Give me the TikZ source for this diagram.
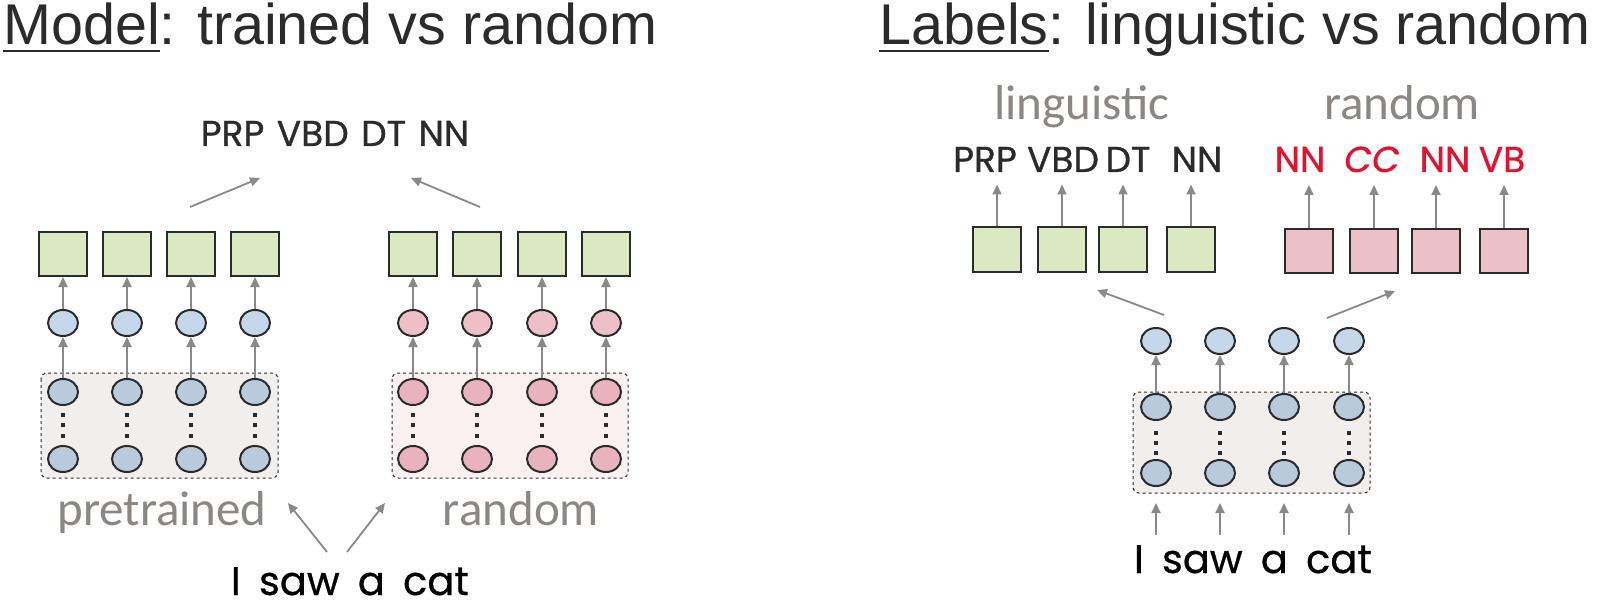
\documentclass[tikz,border=0pt]{standalone}
\usepackage{fontspec}
\setmainfont{Liberation Sans}
\newfontfamily\labelfont{Carlito}
\newfontfamily\tagfont[WordSpace=1.3,FakeBold=0.8]{Poppins}
\newfontfamily\wordfont[WordSpace=1.7,FakeBold=0.6]{Poppins}
\usetikzlibrary{shapes.geometric,arrows.meta}

\definecolor{edge}{HTML}{2B2B2B}
\definecolor{arrowgray}{HTML}{898989}
\definecolor{labelgray}{HTML}{8A8785}
\definecolor{tagred}{HTML}{E8112D}
\definecolor{boxgreen}{HTML}{DCE8C2}
\definecolor{boxpink}{HTML}{ECC0C9}
\definecolor{midblue}{HTML}{C5D7EA}
\definecolor{lowblue}{HTML}{B9CADB}
\definecolor{midpink}{HTML}{EDBFC8}
\definecolor{lowpink}{HTML}{E8B3BE}
\definecolor{framegray}{HTML}{F0EFED}
\definecolor{framepink}{HTML}{FAF0F1}

\newcommand\titleul[1]{\setbox0\hbox{#1}\rlap{\rule[-7.5pt]{\wd0}{2.5pt}}\box0}

\begin{document}
\begin{tikzpicture}[x=1pt,y=-1pt,
    box/.style={draw=edge,line width=2pt,fill=boxgreen,minimum width=48pt,minimum height=44pt,inner sep=0pt},
    pbox/.style={box,fill=boxpink},
    mid/.style={ellipse,draw=edge,line width=2pt,fill=midblue,minimum width=30pt,minimum height=26pt,inner sep=0pt},
    low/.style={mid,fill=lowblue},
    pmid/.style={mid,fill=midpink},
    plow/.style={mid,fill=lowpink},
    arr/.style={draw=arrowgray,line width=1.8pt,-{Triangle[length=10pt,width=9pt]}},
    frame/.style={draw=edge,dashed,line width=1pt,rounded corners=6pt},
    title/.style={font=\fontsize{57.5}{60}\selectfont,text=edge,anchor=base west,inner sep=0pt},
    graylabel/.style={font=\labelfont\fontsize{49}{50}\selectfont,text=labelgray,anchor=base,inner sep=0pt},
    tag/.style={font=\tagfont\fontsize{36}{38}\selectfont,text=edge,anchor=base,inner sep=0pt},
    redtag/.style={tag,text=tagred},
    sentence/.style={font=\wordfont\fontsize{40}{42}\selectfont,text=black,anchor=base,inner sep=0pt}]

  \useasboundingbox (0,0) rectangle (1601,604);

  % titles
  \node[title] (t1) at (3,45) {\titleul{Model}: trained vs random};
  \node[title] (t2) at (879,45) {\titleul{Labels}: linguistic vs random};

  % left panel: pretrained model
  \draw[frame,fill=framegray] (41,373) rectangle (278,478);
  \foreach \i/\x in {1/63,2/127,3/191,4/255} {
    \node[box] (a\i) at (\x,254) {};
    \node[mid] (am\i) at (\x,323) {};
    \node[low] (at\i) at (\x,392) {};
    \node[low] (ab\i) at (\x,459) {};
    \foreach \d in {415,425,436} \fill[edge] (\x-2,\d-2) rectangle (\x+2,\d+2);
    \draw[arr] (at\i) -- (am\i);
    \draw[arr] (am\i) -- (a\i);
  }

  % left panel: random model
  \draw[frame,fill=framepink] (392,373) rectangle (628,478);
  \foreach \i/\x in {1/413,2/477,3/542,4/606} {
    \node[box] (b\i) at (\x,254) {};
    \node[pmid] (bm\i) at (\x,323) {};
    \node[plow] (bt\i) at (\x,392) {};
    \node[plow] (bb\i) at (\x,459) {};
    \foreach \d in {415,425,436} \fill[edge] (\x-2,\d-2) rectangle (\x+2,\d+2);
    \draw[arr] (bt\i) -- (bm\i);
    \draw[arr] (bm\i) -- (b\i);
  }

  \node[tag] (tagl) at (335,146) {PRP VBD DT NN};
  \coordinate (la) at (190,207);
  \coordinate (lb) at (260,178);
  \coordinate (ra) at (480,207);
  \coordinate (rb) at (411,178);
  \draw[arr] (la) -- (lb);
  \draw[arr] (ra) -- (rb);

  \node[graylabel] (pre) at (162,525) {pretrained};
  \node[graylabel] (rnd1) at (521,525) {random};

  \node[sentence] (sl) at (350,595) {I saw a cat};
  \coordinate (s1) at (327,552);
  \coordinate (s1e) at (288,503);
  \coordinate (s2) at (347,552);
  \coordinate (s2e) at (385,503);
  \draw[arr] (s1) -- (s1e);
  \draw[arr] (s2) -- (s2e);

  % right panel: labels
  \node[graylabel] (ling) at (1082,120) {linguistic};
  \node[graylabel] (rnd2) at (1402,120) {random};

  \foreach \i/\x/\tx/\t in {1/997/985/PRP,2/1062/1063/VBD,3/1123/1128/DT,4/1191/1197/NN} {
    \node[box] (g\i) at (\x,249.5) {};
    \node[tag] (tg\i) at (\tx,172) {\t};
    \draw[arr] (g\i.north) -- ++(0,-42);
  }
  \foreach \i/\x/\tx/\t in {1/1309/1300/NN,2/1374/1372/\textit{CC},3/1436/1445/NN,4/1504/1502/VB} {
    \node[pbox] (p\i) at (\x,251) {};
    \node[redtag] (tp\i) at (\tx,172) {\t};
    \draw[arr] (p\i.north) -- ++(0,-43);
  }

  \draw[frame,fill=framegray] (1133,392) rectangle (1370,493);
  \foreach \i/\x in {1/1156,2/1220,3/1284,4/1349} {
    \node[mid] (cm\i) at (\x,341) {};
    \node[low] (ct\i) at (\x,407) {};
    \node[low] (cb\i) at (\x,473) {};
    \foreach \d in {433,443,453} \fill[edge] (\x-2,\d-2) rectangle (\x+2,\d+2);
    \draw[arr] (ct\i) -- (cm\i);
    \coordinate (in\i) at (\x,535);
    \draw[arr] (in\i) -- ++(0,-32);
  }

  \coordinate (ga) at (1164,315);
  \coordinate (gb) at (1097,290);
  \coordinate (pa) at (1327,318);
  \coordinate (pb) at (1395,291);
  \draw[arr] (ga) -- (gb);
  \draw[arr] (pa) -- (pb);

  \node[sentence] (sr) at (1253,573) {I saw a cat};
\end{tikzpicture}
\end{document}
